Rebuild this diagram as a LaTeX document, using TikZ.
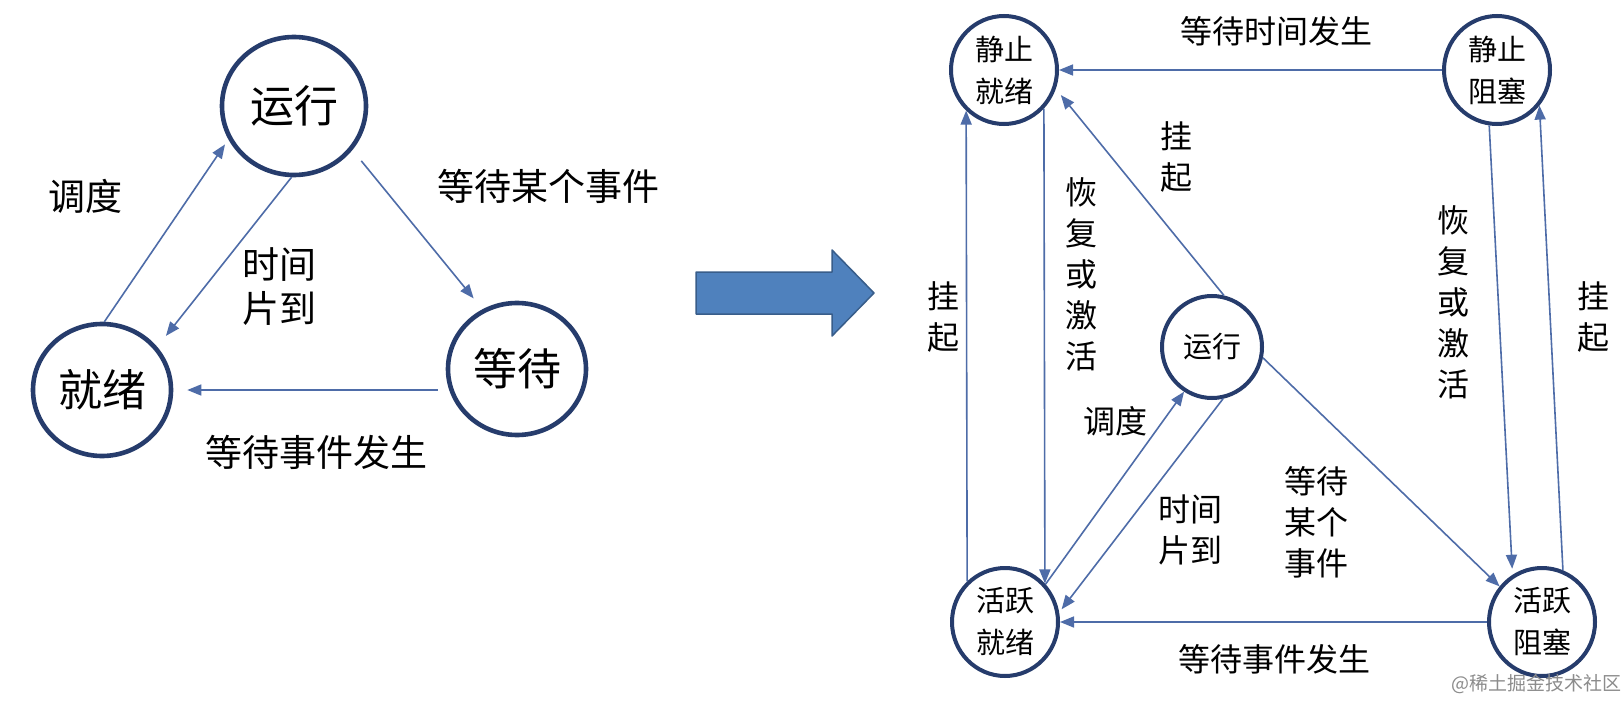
\documentclass[tikz,border=0pt]{standalone}
\usepackage{fontspec}
\usepackage{tikz}
\usetikzlibrary{arrows.meta,shapes.geometric}
\newfontfamily\cjk{Noto Sans CJK SC}
\definecolor{borda}{RGB}{38,60,108}
\definecolor{linha}{RGB}{78,108,168}
\definecolor{seta}{RGB}{79,129,189}
\definecolor{setaborda}{RGB}{56,93,138}

\begin{document}
\begin{tikzpicture}[x=1pt, y=-1pt,
	estado/.style={ellipse, draw=borda, line width=4.6pt, inner sep=0pt, minimum width=138pt, minimum height=132pt, font=\cjk\fontsize{44}{48}\selectfont},
	estadob/.style={ellipse, draw=borda, line width=4pt, inner sep=0pt, minimum width=106pt, minimum height=108pt, align=center, font=\cjk\fontsize{29}{42}\selectfont},
	rotulo/.style={inner sep=0pt, align=center, font=\cjk\fontsize{37}{44}\selectfont},
	rotulob/.style={inner sep=0pt, align=center, font=\cjk\fontsize{32}{41}\selectfont},
	trans/.style={draw=linha, line width=1.6pt, -{Triangle[length=14pt,width=11pt]}}]
	\fill[white] (0,0) rectangle (1622,706);
	\useasboundingbox (0,0) rectangle (1622,706);

	% os tres estados
		\node[estado, minimum width=144pt, minimum height=138pt] (yx) at (294,106) {运行};
		\node[estado] (jx) at (102,390) {就绪};
		\node[estado] (dd) at (517,369) {等待};

		\draw[trans, shorten >=6pt] (jx.88) -- (yx.207);
		\draw[trans, shorten >=14pt] (yx.268) -- (jx.38);
		\draw[trans, shorten <=14pt, shorten >=14pt] (yx.-37) -- (dd.120);
		\draw[trans, shorten <=8pt, shorten >=14pt] (dd.west |- jx) -- (jx);

		\node[rotulo] (l1) at (85,196) {调度};
		\node[rotulo] (l2) at (548,186) {等待某个事件};
		\node[rotulo] (l3) at (279,287) {时间\\片到};
		\node[rotulo] (l4) at (316,452) {等待事件发生};

	% a seta grande
		\filldraw[fill=seta, draw=setaborda, line width=1.5pt, line join=round]
			(696,272) -- (832,272) -- (832,250) -- (874,293) -- (832,336) -- (832,314) -- (696,314) -- cycle;

	% os cinco estados
		\node[estadob] (sr) at (1004,70) {静止\\就绪};
		\node[estadob] (sb) at (1497,70) {静止\\阻塞};
		\node[estadob, minimum width=100pt, minimum height=102pt] (yx2) at (1212,347) {运行};
		\node[estadob] (ar) at (1005,622) {活跃\\就绪};
		\node[estadob] (ab) at (1542,622) {活跃\\阻塞};

		\draw[trans] (sb) -- (sr);
		\draw[trans, shorten >=8pt] (yx2.77) -- (sr.-20);
		\draw[trans] (ar.133) -- (sr.-133);
		\draw[trans] (sr.-44) -- (ar.44);
		\draw[trans] (ar.43) -- (yx2.238);
		\draw[trans, shorten >=4pt] (yx2.282) -- (ar.10);
		\draw[trans] (yx2.-12) -- (ab.140);
		\draw[trans] (ab) -- (ar);
		\draw[trans, shorten >=6pt] (sb.262) -- (ab.122);
		\draw[trans] (ab.68) -- (sb.-40);

		\node[rotulob] (m1) at (1276,31) {等待时间发生};
		\node[rotulob] (m2) at (1176,157) {挂\\起};
		\node[rotulob] (m3) at (943,317) {挂\\起};
		\node[rotulob] (m4) at (1081,274) {恢\\复\\或\\激\\活};
		\node[rotulob] (m5) at (1115,421) {调度};
		\node[rotulob] (m6) at (1190,530) {时间\\片到};
		\node[rotulob] (m7) at (1316,522) {等待\\某个\\事件};
		\node[rotulob] (m8) at (1274,659) {等待事件发生};
		\node[rotulob] (m9) at (1453,302) {恢\\复\\或\\激\\活};
		\node[rotulob] (m10) at (1593,317) {挂\\起};

		\node[text=black!45, font=\cjk\fontsize{19}{22}\selectfont, inner sep=0pt] (marca) at (1536,684) {@稀土掘金技术社区};
\end{tikzpicture}
\end{document}
